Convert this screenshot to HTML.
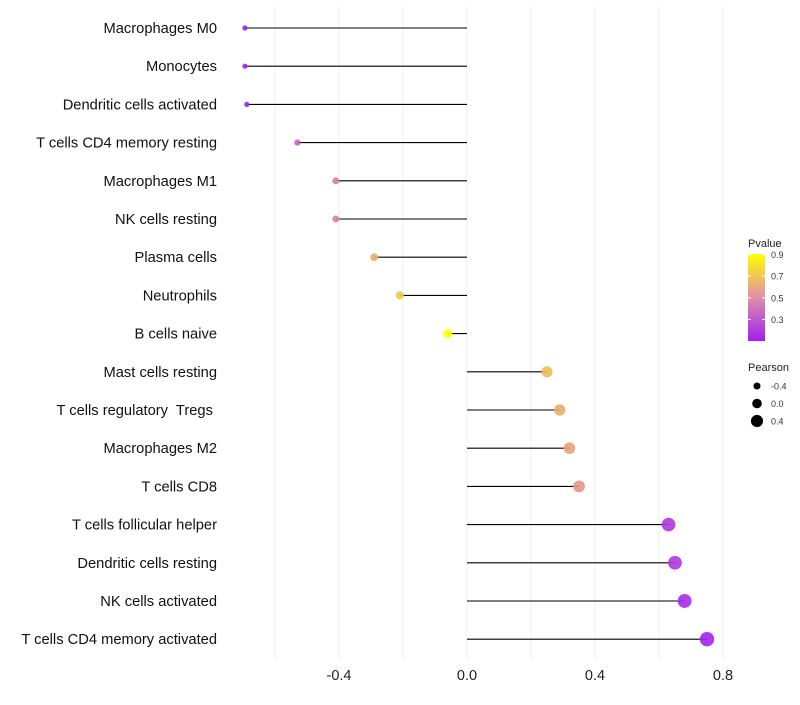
<!DOCTYPE html>
<html><head><meta charset="utf-8"><style>
body{margin:0;background:#fff;font-family:"Liberation Sans",sans-serif}
text{white-space:pre}
</style></head><body>
<svg id="chart" width="800" height="700" xmlns="http://www.w3.org/2000/svg" font-family="Liberation Sans, sans-serif">
<defs><linearGradient id="pg" x1="0" y1="1" x2="0" y2="0">
<stop offset="0" stop-color="#a020f0"/><stop offset="0.5" stop-color="#e08fa8"/><stop offset="1" stop-color="#ffff00"/></linearGradient></defs>
<g id="grid"></g><g id="marks"></g><g id="labels"></g><g id="legend"></g>
</svg>
<script>
const categories=["Macrophages M0","Monocytes","Dendritic cells activated","T cells CD4 memory resting","Macrophages M1","NK cells resting","Plasma cells","Neutrophils","B cells naive","Mast cells resting","T cells regulatory  Tregs ","Macrophages M2","T cells CD8","T cells follicular helper","Dendritic cells resting","NK cells activated","T cells CD4 memory activated"];
const pearson=[-0.694,-0.694,-0.688,-0.53,-0.41,-0.41,-0.29,-0.21,-0.06,0.25,0.29,0.32,0.35,0.63,0.65,0.68,0.75];
const pvalue=[0.1,0.1,0.1,0.38,0.5,0.5,0.65,0.75,0.92,0.7,0.65,0.62,0.57,0.2,0.2,0.15,0.12];
const xTicks=[-0.4,0,0.4,0.8];
const xTickLabels=["-0.4","0.0","0.4","0.8"];
const xGrid=[-0.6,-0.4,-0.2,0,0.2,0.4,0.6,0.8];
const pTicks=[0.9,0.7,0.5,0.3];
const sizeTicks=[-0.4,0.0,0.4];
const NS="http://www.w3.org/2000/svg";
const X=v=>467+320*v;
const Y=i=>28+38.2*i;
const R=v=>Math.max(1.5,4.8+3.2*v);
function lerp(a,b,t){return a.map((x,k)=>Math.round(x+(b[k]-x)*t));}
function col(p){let t=(p-0.1)/(0.92-0.1);t=Math.max(0,Math.min(1,t));
 const c0=[160,32,240],c1=[222,130,160],c2=[255,255,0];
 const c=t<0.5?lerp(c0,c1,t/0.5):lerp(c1,c2,(t-0.5)/0.5);return `rgb(${c})`;}
function mk(tag,attrs,parent,text){const e=document.createElementNS(NS,tag);for(const k in attrs)e.setAttribute(k,attrs[k]);if(text!==undefined)e.textContent=text;parent.appendChild(e);return e;}
const G=document.getElementById('grid'),M=document.getElementById('marks'),L=document.getElementById('labels'),LG=document.getElementById('legend');
xGrid.forEach(v=>{const l=mk('line',{x1:X(v),x2:X(v),y1:5,y2:660,stroke:'#f0f0f0','stroke-width':1},G);

});
xTicks.forEach((v,i)=>{const t=mk('text',{x:X(v),y:680,'text-anchor':'middle','font-size':14.5,fill:'#222'},L,xTickLabels[i]);

});
categories.forEach((c,i)=>{
 const t=mk('text',{x:217,y:Y(i)+5,'text-anchor':'end','font-size':14.7,fill:'#111'},L,c);
 
 
 const s=mk('line',{x1:X(0),x2:X(pearson[i]),y1:Y(i),y2:Y(i),stroke:'#000','stroke-width':1.1},M);
 
 
 const p=mk('circle',{cx:X(pearson[i]),cy:Y(i),r:R(pearson[i]),fill:col(pvalue[i]),'fill-opacity':0.9},M);
 
 
});
let t=mk('text',{x:748,y:247,'font-size':11,fill:'#222'},LG,'Pvalue');


const PY=p=>341-108*(p-0.1);
let r=mk('rect',{x:748,y:254,width:17,height:87,fill:'url(#pg)'},LG);


pTicks.forEach(p=>{const tt=mk('text',{x:771,y:PY(p)+3.5,'font-size':9,fill:'#333'},LG,p.toFixed(1));


mk('line',{x1:748,x2:751,y1:PY(p),y2:PY(p),stroke:'#fff'},LG);mk('line',{x1:762,x2:765,y1:PY(p),y2:PY(p),stroke:'#fff'},LG);});
t=mk('text',{x:748,y:371,'font-size':11,fill:'#222'},LG,'Pearson');


sizeTicks.forEach((v,i)=>{const y=386+17.5*i;
 const c=mk('circle',{cx:757,cy:y,r:R(v),fill:'#000'},LG);
 
 
 const tt=mk('text',{x:771,y:y+3.5,'font-size':9,fill:'#333'},LG,v.toFixed(1));
 
 
});
</script>
</body></html>
